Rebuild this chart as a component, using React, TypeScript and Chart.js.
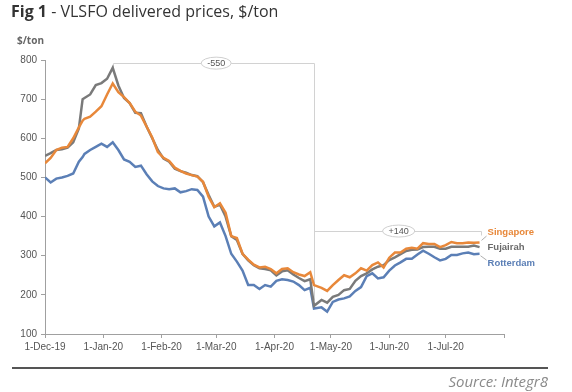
import React, { useEffect, useRef } from 'react';
import { Chart, registerables } from 'chart.js';

Chart.register(...registerables);

// Days since 1-Dec-2019
const days = [0, 3, 6, 9, 12, 15, 18, 20, 21, 24, 27, 30, 33, 36, 39, 42, 45, 48, 51, 54, 57, 60, 63, 66, 69, 72, 75, 78, 81, 84, 87, 90, 93, 96, 99, 102, 105, 108, 111, 114, 117, 120, 123, 126, 129, 132, 135, 138, 141, 143, 147, 150, 153, 156, 159, 162, 165, 168, 171, 174, 177, 180, 183, 186, 189, 192, 195, 198, 201, 204, 207, 210, 213, 216, 219, 222, 225, 228, 231];

const singapore = [536, 550, 570, 576, 578, 600, 628, 645, 650, 655, 668, 682, 712, 740, 718, 705, 690, 668, 658, 630, 602, 565, 550, 542, 525, 517, 510, 506, 502, 489, 450, 424, 434, 410, 350, 345, 305, 290, 277, 270, 272, 266, 255, 266, 268, 258, 252, 248, 258, 225, 218, 210, 225, 238, 250, 245, 255, 268, 262, 276, 283, 270, 295, 308, 308, 318, 320, 318, 332, 330, 330, 322, 327, 335, 332, 332, 334, 333, 334];

const fujairah = [555, 562, 570, 572, 576, 590, 625, 700, 703, 712, 736, 741, 752, 780, 735, 703, 690, 665, 664, 630, 600, 570, 548, 540, 522, 516, 512, 506, 503, 488, 455, 425, 430, 400, 350, 340, 305, 288, 276, 268, 266, 263, 250, 260, 263, 252, 243, 235, 240, 172, 187, 180, 195, 200, 212, 215, 236, 248, 255, 265, 272, 276, 289, 296, 304, 312, 315, 316, 322, 323, 323, 318, 318, 323, 323, 323, 323, 326, 322];

const rotterdam = [500, 487, 497, 500, 504, 510, 540, 552, 560, 570, 578, 586, 578, 590, 570, 546, 540, 527, 530, 508, 490, 478, 472, 470, 472, 462, 465, 470, 468, 451, 400, 375, 385, 350, 305, 285, 262, 225, 225, 215, 225, 221, 236, 240, 238, 234, 225, 212, 218, 165, 168, 157, 182, 188, 191, 196, 210, 220, 248, 255, 242, 245, 262, 275, 283, 292, 292, 303, 313, 305, 296, 288, 292, 302, 302, 306, 308, 304, 305];

const monthTicks = [0, 31, 62, 91, 122, 152, 183, 213, 244];
const monthLabels = ['1-Dec-19', '1-Jan-20', '1-Feb-20', '1-Mar-20', '1-Apr-20', '1-May-20', '1-Jun-20', '1-Jul-20', ''];
const seriesNames = ['Singapore', 'Fujairah', 'Rotterdam'];

// Annotation anchors (data coordinates)
const peakDay = 36;
const peakValue = 782;
const bracketTop = 792;
const troughDay = 143;
const troughValue = 188;
const dropLabel = '-550';
const dropLabelDay = 91;
const riseLevel = 363;
const riseEndDay = 232;
const riseLabel = '+140';
const riseLabelDay = 188;

const ORANGE = '#E8883A';
const GREY = '#7a7a7a';
const BLUE = '#5b7fb6';
const FONT = "'Liberation Sans', Arial, sans-serif";

const annotationPlugin = {
  id: 'bracketNotes',
  beforeDatasetsDraw(chart: any) {
    const { ctx, scales } = chart;
    const x = scales.x;
    const y = scales.y;
    const px = (d: number) => Math.round(x.getPixelForValue(d)) + 0.5;
    const py = (v: number) => Math.round(y.getPixelForValue(v)) + 0.5;
    ctx.save();
    ctx.strokeStyle = '#d2d2d2';
    ctx.lineWidth = 1;
    ctx.beginPath();
    ctx.moveTo(px(peakDay), py(peakValue));
    ctx.lineTo(px(peakDay), py(bracketTop));
    ctx.lineTo(px(troughDay), py(bracketTop));
    ctx.lineTo(px(troughDay), py(troughValue));
    ctx.stroke();
    ctx.beginPath();
    ctx.moveTo(px(troughDay), py(riseLevel));
    ctx.lineTo(px(riseEndDay), py(riseLevel));
    ctx.lineTo(px(riseEndDay), py(riseLevel) + 4);
    ctx.stroke();
    ctx.restore();
  },
  afterDatasetsDraw(chart: any) {
    const { ctx, scales } = chart;
    const x = scales.x;
    const y = scales.y;
    ctx.save();
    const box = (label: string, d: number, v: number) => {
      const cx = x.getPixelForValue(d);
      const cy = y.getPixelForValue(v);
      ctx.font = `9px ${FONT}`;
      const w = ctx.measureText(label).width + 12;
      const h = 12;
      ctx.beginPath();
      ctx.ellipse(cx, cy, w / 2, h / 2, 0, 0, Math.PI * 2);
      ctx.fillStyle = '#ffffff';
      ctx.fill();
      ctx.strokeStyle = '#cfcfcf';
      ctx.lineWidth = 1;
      ctx.stroke();
      ctx.fillStyle = '#555';
      ctx.textAlign = 'center';
      ctx.textBaseline = 'middle';
      ctx.fillText(label, cx, cy + 0.5);
    };
    box(dropLabel, dropLabelDay, bracketTop);
    box(riseLabel, riseLabelDay, riseLevel);

    // series end labels
    const lastDay = days[days.length - 1];
    const endX = x.getPixelForValue(lastDay);
    const midY = y.getPixelForValue(fujairah[fujairah.length - 1]);
    const labelX = endX + 8;
    const ys = [y.getPixelForValue(riseLevel) + 1, midY, midY + 16];
    const colors = [ORANGE, '#6a6a6a', BLUE];
    ctx.font = `bold 9.5px ${FONT}`;
    ctx.textAlign = 'left';
    ctx.textBaseline = 'middle';
    seriesNames.forEach((n, i) => {
      ctx.fillStyle = colors[i];
      ctx.fillText(n, labelX, ys[i]);
    });
    ctx.strokeStyle = '#9a9a9a';
    ctx.lineWidth = 0.8;
    ctx.beginPath();
    const sEnd = y.getPixelForValue(singapore[singapore.length - 1]);
    ctx.moveTo(endX + 2, sEnd - 2);
    ctx.lineTo(labelX - 1, ys[0] + 4);
    const rEnd = y.getPixelForValue(rotterdam[rotterdam.length - 1]);
    ctx.moveTo(endX + 1, rEnd + 2);
    ctx.lineTo(labelX - 1, ys[2] - 3);
    ctx.stroke();
    ctx.restore();
  },
};

export default function App() {
  const ref = useRef<HTMLCanvasElement>(null);
  useEffect(() => {
    const mk = (arr: number[]) => days.map((d, i) => ({ x: d, y: arr[i] }));
    const chart = new Chart(ref.current as HTMLCanvasElement, {
      type: 'line',
      data: {
        datasets: [
          { label: seriesNames[0], data: mk(singapore), borderColor: ORANGE, borderWidth: 2.5, pointRadius: 0, tension: 0, fill: false },
          { label: seriesNames[1], data: mk(fujairah), borderColor: GREY, borderWidth: 2.5, pointRadius: 0, tension: 0, fill: false },
          { label: seriesNames[2], data: mk(rotterdam), borderColor: BLUE, borderWidth: 2.5, pointRadius: 0, tension: 0, fill: false },
        ],
      },
      options: {
        animation: false,
        responsive: false,
        layout: { padding: { top: 60, left: 0, right: 68, bottom: 36 } },
        plugins: { legend: { display: false }, tooltip: { enabled: false } },
        scales: {
          x: {
            type: 'linear',
            min: 0,
            max: 244,
            afterBuildTicks: (s: any) => {
              s.ticks = monthTicks.map((v) => ({ value: v }));
            },
            afterFit: (s: any) => {
              s.height = 22;
            },
            ticks: {
              autoSkip: false,
              maxRotation: 0,
              padding: 3,
              color: '#555',
              font: { family: FONT, size: 10 },
              callback: (v: any) => {
                const i = monthTicks.indexOf(Number(v));
                return i >= 0 ? monthLabels[i] : '';
              },
            },
            grid: { drawOnChartArea: false, tickLength: 4, color: '#a0a0a0' },
            border: { color: '#a0a0a0' },
          },
          y: {
            min: 100,
            max: 800,
            afterFit: (s: any) => {
              s.width = 45;
            },
            ticks: {
              stepSize: 100,
              padding: 4,
              color: '#555',
              font: { family: FONT, size: 10 },
            },
            grid: { drawOnChartArea: false, tickLength: 4, color: '#a0a0a0' },
            border: { color: '#a0a0a0' },
          },
        },
      },
      plugins: [annotationPlugin],
    } as any);
    return () => chart.destroy();
  }, []);

  return (
    <div style={{ position: 'absolute', left: 0, top: 0, width: 572, height: 392, background: '#fff', overflow: 'hidden' }}>
      <canvas ref={ref} width={572} height={392} style={{ position: 'absolute', left: 0, top: 0, display: 'block' }} />
      <div style={{ position: 'absolute', left: 11, top: 0, lineHeight: '22px', fontSize: 16, fontFamily: "'Open Sans', sans-serif", color: '#333', whiteSpace: 'nowrap' }}>
        <span style={{ fontWeight: 700 }}>Fig 1</span> - VLSFO delivered prices, $/ton
      </div>
      <div style={{ position: 'absolute', left: 17, top: 33, lineHeight: '14px', fontSize: 10, fontWeight: 700, fontFamily: "'Open Sans', sans-serif", color: '#666' }}>
        $/ton
      </div>
      <div style={{ position: 'absolute', left: 12, top: 367, width: 536, height: 2, background: '#555' }} />
      <div style={{ position: 'absolute', right: 24, top: 371, lineHeight: '20px', fontSize: 15, fontStyle: 'italic', fontFamily: "'Open Sans', sans-serif", color: '#8a8a8a', whiteSpace: 'nowrap' }}>
        Source: Integr8
      </div>
    </div>
  );
}
